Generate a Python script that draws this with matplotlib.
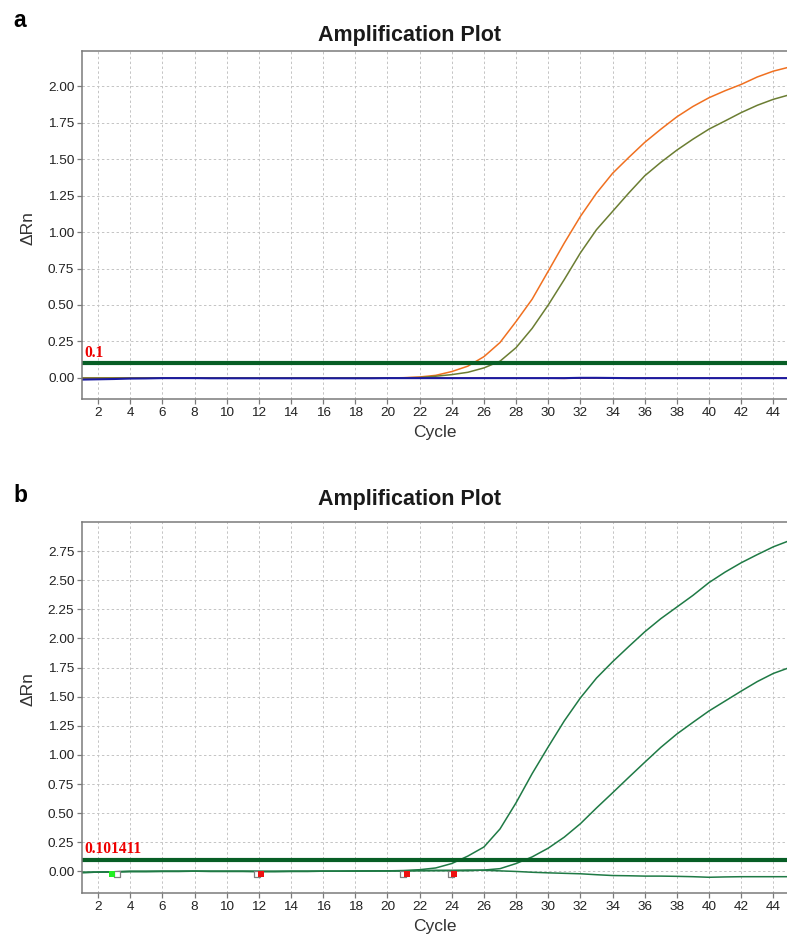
import matplotlib
matplotlib.use("Agg")
import matplotlib.pyplot as plt
import numpy as np

plt.rcParams['font.family'] = ['Liberation Sans', 'DejaVu Sans']

cycles = list(range(1, 46))

# ---- Panel a data ----
a_orange = [0.000, 0.000, 0.000, 0.000, 0.000, 0.000, 0.000, 0.000, 0.000, 0.000,
            0.000, 0.000, 0.000, 0.000, 0.000, 0.000, 0.000, 0.000, 0.000, 0.000,
            0.002, 0.007, 0.018, 0.044, 0.081, 0.146, 0.243, 0.387, 0.540, 0.732,
            0.925, 1.107, 1.266, 1.402, 1.510, 1.614, 1.704, 1.789, 1.860, 1.920,
            1.968, 2.011, 2.062, 2.102, 2.130]
a_olive = [0.000, 0.000, 0.000, 0.000, 0.000, 0.000, 0.000, 0.000, 0.000, 0.000,
           0.000, 0.000, 0.000, 0.000, 0.000, 0.000, 0.000, 0.000, 0.000, 0.000,
           0.001, 0.003, 0.012, 0.023, 0.039, 0.069, 0.115, 0.208, 0.340, 0.500,
           0.675, 0.857, 1.016, 1.141, 1.266, 1.385, 1.477, 1.561, 1.636, 1.705,
           1.761, 1.818, 1.868, 1.909, 1.940]
a_red = [-0.004, -0.003, -0.002, -0.001, 0.000, 0.001, 0.001, 0.002, 0.001, 0.000,
         0.000, -0.001, -0.001, 0.000, 0.000, -0.001, -0.002, -0.002, -0.001, 0.000,
         0.000, -0.001, -0.001, -0.002, -0.002, -0.001, -0.002, -0.002, -0.002, -0.002,
         -0.003, -0.001, 0.000, 0.000, 0.000, -0.001, -0.001, -0.001, -0.001, -0.001,
         -0.001, -0.001, -0.001, -0.001, -0.001]
a_blue = [-0.011, -0.009, -0.007, -0.004, -0.003, -0.001, -0.001, -0.001, -0.002, -0.002,
          -0.002, -0.002, -0.002, -0.002, -0.002, -0.002, -0.002, -0.002, -0.002, -0.001,
          -0.001, -0.001, -0.001, -0.001, -0.001, -0.001, -0.001, -0.001, -0.001, -0.001,
          -0.001, 0.001, 0.001, 0.000, -0.001, -0.001, -0.001, -0.001, -0.001, -0.001,
          -0.001, -0.001, -0.001, -0.001, -0.001]
a_threshold = 0.1
a_threshold_label = "0.1"

# ---- Panel b data ----
b_curve1 = [-0.009, -0.006, -0.003, 0.000, 0.000, 0.001, 0.001, 0.002, 0.001, 0.001,
            0.001, 0.000, 0.000, 0.001, 0.001, 0.002, 0.002, 0.003, 0.004, 0.005,
            0.008, 0.015, 0.030, 0.068, 0.132, 0.210, 0.365, 0.590, 0.840, 1.070,
            1.293, 1.490, 1.660, 1.800, 1.930, 2.057, 2.170, 2.270, 2.370, 2.480,
            2.570, 2.650, 2.720, 2.787, 2.840]
b_curve2 = [-0.009, -0.006, -0.003, 0.000, 0.000, 0.001, 0.001, 0.002, 0.001, 0.001,
            0.001, 0.000, 0.000, 0.001, 0.001, 0.002, 0.002, 0.003, 0.004, 0.005,
            0.005, 0.006, 0.006, 0.006, 0.006, 0.012, 0.024, 0.068, 0.125, 0.200,
            0.295, 0.410, 0.545, 0.675, 0.807, 0.937, 1.065, 1.180, 1.280, 1.378,
            1.463, 1.548, 1.630, 1.700, 1.750]
b_curve3 = [-0.009, -0.006, -0.003, 0.000, 0.000, 0.001, 0.001, 0.002, 0.001, 0.001,
            0.001, 0.000, 0.000, 0.001, 0.001, 0.002, 0.002, 0.003, 0.004, 0.005,
            0.005, 0.008, 0.010, 0.010, 0.012, 0.010, 0.005, 0.000, -0.007, -0.012,
            -0.016, -0.020, -0.028, -0.035, -0.037, -0.040, -0.040, -0.042, -0.045, -0.050,
            -0.047, -0.045, -0.045, -0.045, -0.045]
b_threshold = 0.101411
b_threshold_label = "0.101411"

# markers (Ct / baseline flags) in panel b
b_open_x = [3.15, 11.9, 20.95, 23.95]
b_open_y = [-0.02, -0.02, -0.02, -0.02]
b_fill_x = [2.85, 12.15, 21.2, 24.15]
b_fill_y = [-0.02, -0.02, -0.02, -0.02]
b_fill_colors = ['#22ee22', '#ee1111', '#ee1111', '#ee1111']

x_ticks = list(range(2, 45, 2))
a_yticks = [0.00, 0.25, 0.50, 0.75, 1.00, 1.25, 1.50, 1.75, 2.00]
b_yticks = [0.00, 0.25, 0.50, 0.75, 1.00, 1.25, 1.50, 1.75, 2.00, 2.25, 2.50, 2.75]

W, H = 787, 935
fig = plt.figure(figsize=(W / 100, H / 100), dpi=100)


def px_ax(l, t, r, b):
    return fig.add_axes([l / W, 1 - b / H, (r - l) / W, (b - t) / H])


def style(ax, yticks, ylim):
    ax.set_xlim(1.0, 44.85)
    ax.set_ylim(*ylim)
    ax.set_xticks(x_ticks)
    ax.set_yticks(yticks)
    ax.set_yticklabels([f"{v:.2f}" for v in yticks])
    ax.grid(True, color='#c4c4c4', linestyle=(0, (2.5, 2.5)), linewidth=0.7)
    ax.set_axisbelow(True)
    for s in ['left', 'bottom', 'top']:
        ax.spines[s].set_color('#7a7a7a')
        ax.spines[s].set_linewidth(1.1)
    ax.spines['right'].set_visible(False)
    ax.tick_params(axis='both', colors='#7a7a7a', labelcolor='#222222',
                   labelsize=9.7, length=3.5, width=0.9, pad=2)


# ---------------- Panel a ----------------
ax1 = px_ax(82, 51, 787, 399)
style(ax1, a_yticks, (-0.144, 2.24))
ax1.plot(cycles, a_red, color='#e02020', lw=1.0)
ax1.plot(cycles, a_orange, color='#f07020', lw=1.1)
ax1.plot(cycles, a_olive, color='#6b7d32', lw=1.1)
ax1.plot(cycles, a_blue, color='#1a1aa0', lw=1.5)
ax1.axhline(a_threshold, color='#075e25', lw=3.0)
ax1.annotate(a_threshold_label, xy=(1.0, a_threshold), xytext=(1.5, 1.6),
             textcoords='offset points', color='#ee0000', fontsize=11.2,
             fontweight='bold', family=['Liberation Serif', 'DejaVu Serif'],
             ha='left', va='bottom')

# ---------------- Panel b ----------------
ax2 = px_ax(82, 522, 787, 893)
style(ax2, b_yticks, (-0.185, 3.0))
ax2.plot(cycles, b_curve3, color='#1f7a45', lw=1.1)
ax2.plot(cycles, b_curve2, color='#1f7a45', lw=1.1)
ax2.plot(cycles, b_curve1, color='#1f7a45', lw=1.1)
ax2.axhline(b_threshold, color='#075e25', lw=3.0)
ax2.annotate(b_threshold_label, xy=(1.0, b_threshold), xytext=(1.5, 1.6),
             textcoords='offset points', color='#ee0000', fontsize=11.2,
             fontweight='bold', family=['Liberation Serif', 'DejaVu Serif'],
             ha='left', va='bottom')
ax2.scatter(b_open_x, b_open_y, marker='s', s=20, facecolor='white',
            edgecolor='#808080', linewidth=0.9, zorder=5)
ax2.scatter(b_fill_x, b_fill_y, marker='s', s=20, c=b_fill_colors,
            edgecolor='none', zorder=6)

# ---------------- Labels ----------------
for ax, ly in [(ax1, 0.49), (ax2, 0.551)]:
    ax.set_ylabel('ΔRn', fontsize=12.5, color='#333333')
    ax.yaxis.set_label_coords(-0.066, ly)

fig.text(435 / W, 1 - 432 / H, 'Cycle', fontsize=12.5, color='#333333',
         ha='center', va='center')
fig.text(435 / W, 1 - 927 / H, 'Cycle', fontsize=12.5, color='#333333',
         ha='center', va='center')

fig.text(410 / W, 1 - 35 / H, 'Amplification Plot', fontsize=15.5,
         fontweight='bold', color='#1a1a1a', ha='center', va='center')
fig.text(410 / W, 1 - 500 / H, 'Amplification Plot', fontsize=15.5,
         fontweight='bold', color='#1a1a1a', ha='center', va='center')

fig.text(13 / W, 1 - 27 / H, 'a', fontsize=16.5, fontweight='bold',
         ha='left', va='baseline', color='black')
fig.text(13 / W, 1 - 502 / H, 'b', fontsize=16.5, fontweight='bold',
         ha='left', va='baseline', color='black')

fig.savefig('out.png', dpi=100)
